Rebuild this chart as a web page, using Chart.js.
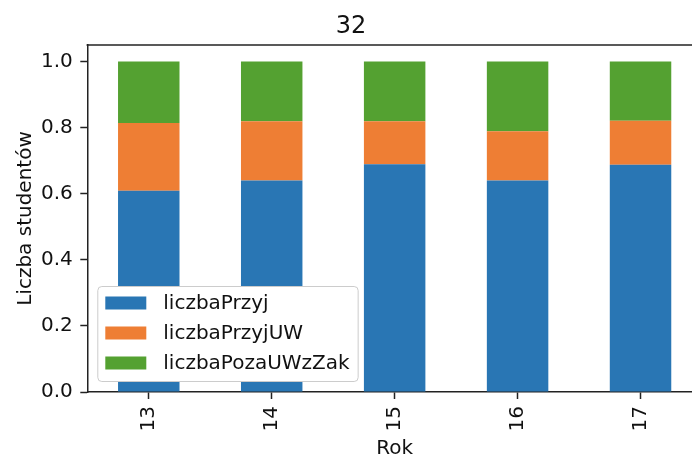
<!DOCTYPE html>
<html>
<head>
<meta charset="utf-8">
<script src="https://cdn.jsdelivr.net/npm/chart.js@4"></script>
<style>
  html, body { margin: 0; padding: 0; background: #fff; overflow: hidden; }
  #wrap { width: 702px; height: 462px; }
</style>
</head>
<body>
<div id="wrap"><canvas id="c"></canvas></div>
<script>
const years = ["13", "14", "15", "16", "17"];
const liczbaPrzyj = [0.609, 0.640, 0.689, 0.640, 0.688];
const liczbaPrzyjUW = [0.205, 0.179, 0.130, 0.149, 0.133];
const liczbaPozaUWzZak = [0.186, 0.181, 0.181, 0.211, 0.179];
const yTicks = [0, 0.2, 0.4, 0.6, 0.8, 1.0];

const FONT = "'DejaVu Sans', 'Liberation Sans', sans-serif";
const INK = "#111";

// spines: top line (right spine is cut off by the window)
const topSpine = {
  id: "topSpine",
  afterDraw(chart) {
    const { ctx, chartArea } = chart;
    ctx.save();
    ctx.strokeStyle = "#222";
    ctx.lineWidth = 1.5;
    ctx.beginPath();
    ctx.moveTo(chartArea.left - 0.75, chartArea.top);
    ctx.lineTo(chartArea.right, chartArea.top);
    ctx.stroke();
    ctx.restore();
  },
};

// matplotlib-like legend inside the lower left corner
const boxLegend = {
  id: "boxLegend",
  afterDraw(chart) {
    const { ctx, chartArea } = chart;
    const sets = chart.data.datasets;
    const x0 = chartArea.left + 10;
    const rowH = 30;
    const h = 95;
    const y0 = chartArea.bottom - 11 - h;
    ctx.save();
    ctx.font = "20px " + FONT;
    let maxW = 0;
    sets.forEach(d => { maxW = Math.max(maxW, ctx.measureText(d.label).width); });
    const w = 66 + maxW + 8;
    ctx.fillStyle = "#ffffff";
    ctx.strokeStyle = "#cccccc";
    ctx.lineWidth = 1;
    ctx.beginPath();
    ctx.roundRect(x0 + 0.5, y0 + 0.5, w, h, 4);
    ctx.fill();
    ctx.stroke();
    ctx.textBaseline = "middle";
    ctx.textAlign = "left";
    sets.forEach((d, i) => {
      const cy = y0 + 17 + i * rowH;
      ctx.fillStyle = d.backgroundColor;
      ctx.fillRect(x0 + 8, cy - 6.5, 41, 13);
      ctx.fillStyle = INK;
      ctx.fillText(d.label, x0 + 66, cy + 1);
    });
    ctx.restore();
  },
};

new Chart(document.getElementById("c"), {
  type: "bar",
  data: {
    labels: years,
    datasets: [
      { label: "liczbaPrzyj", data: liczbaPrzyj, backgroundColor: "#2976b4" },
      { label: "liczbaPrzyjUW", data: liczbaPrzyjUW, backgroundColor: "#ee7e34" },
      { label: "liczbaPozaUWzZak", data: liczbaPozaUWzZak, backgroundColor: "#54a131" },
    ],
  },
  options: {
    responsive: true,
    maintainAspectRatio: false,
    animation: false,
    events: [],
    layout: { padding: { top: 0, right: 0, bottom: 0, left: 0 } },
    datasets: { bar: { categoryPercentage: 1, barPercentage: 0.5 } },
    plugins: {
      legend: { display: false },
      tooltip: { enabled: false },
      title: {
        display: true,
        text: "32",
        color: INK,
        font: { family: FONT, size: 24, weight: "normal" },
        padding: { top: 12.4, bottom: 3.8 },
      },
    },
    scales: {
      x: {
        stacked: true,
        grid: { offset: false, drawOnChartArea: false, drawTicks: true, tickLength: 7, tickColor: "#222", tickWidth: 1.5 },
        border: { color: "#222", width: 1.5 },
        ticks: {
          color: INK,
          font: { family: FONT, size: 20 },
          minRotation: 90,
          maxRotation: 90,
          autoSkip: false,
          padding: 7,
        },
        title: {
          display: true,
          text: "Rok",
          color: INK,
          font: { family: FONT, size: 20 },
          padding: { top: 0, bottom: 1 },
        },
        afterFit(s) { s.height = 70; },
      },
      y: {
        stacked: true,
        min: 0,
        max: 1.05,
        grid: { drawOnChartArea: false, drawTicks: true, tickLength: 7, tickColor: "#222", tickWidth: 1.5 },
        border: { color: "#222", width: 1.5 },
        ticks: {
          color: INK,
          font: { family: FONT, size: 20 },
          padding: 7.5,
          includeBounds: false,
          callback: v => Number(v).toFixed(1),
        },
        afterBuildTicks(s) { s.ticks = yTicks.map(v => ({ value: v })); },
        title: {
          display: true,
          text: "Liczba studentów",
          color: INK,
          font: { family: FONT, size: 20 },
          padding: { top: 13.5, bottom: 0 },
        },
        afterFit(s) { s.width = 87.3; },
      },
    },
  },
  plugins: [topSpine, boxLegend],
});
</script>
</body>
</html>
